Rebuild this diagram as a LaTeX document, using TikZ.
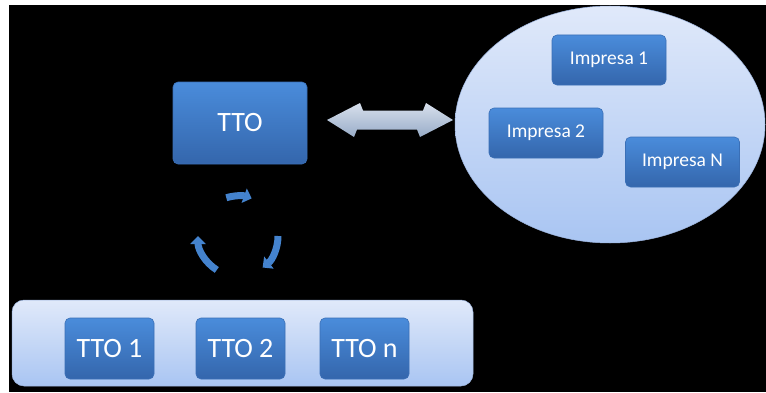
\documentclass[tikz,border=0pt]{standalone}
\usepackage{fontspec}
\setmainfont{Carlito}
\usetikzlibrary{shapes.geometric,arrows.meta}

\definecolor{boxtop}{HTML}{4A8CDB}
\definecolor{boxbot}{HTML}{3466AC}
\definecolor{boxline}{HTML}{3A6FB6}
\definecolor{paletop}{HTML}{E0E9FA}
\definecolor{palebot}{HTML}{A9C5F2}
\definecolor{paleline}{HTML}{9DB5DE}
\definecolor{linktop}{HTML}{D8E0EC}
\definecolor{linkbot}{HTML}{98ACC8}
\definecolor{cycblue}{HTML}{4483CE}

\tikzset{
  bluebox/.style={rectangle, rounded corners=5pt, draw=boxline, line width=0.6pt,
    top color=boxtop, bottom color=boxbot, text=white, inner sep=0pt},
  firmbox/.style={bluebox, minimum width=114pt, minimum height=50pt, font=\fontsize{19.5pt}{22pt}\selectfont},
  ttobox/.style={bluebox, minimum width=89pt, minimum height=61pt, font=\fontsize{28pt}{32pt}\selectfont},
  palearea/.style={draw=paleline, line width=0.5pt, top color=paletop, bottom color=palebot},
  cycarrow/.style={cycblue, line width=7pt, -{Triangle[length=8pt,width=15pt]}}
}

\begin{document}
\begin{tikzpicture}[x=1pt,y=1pt]
  % page and black stage
  \fill[white] (0,0) rectangle (766,392);
  \fill[black] (9,0) rectangle (766,387);
  \useasboundingbox (0,0) rectangle (766,392);

  % central office
  \node[bluebox, minimum width=134pt, minimum height=82pt,
        font=\fontsize{28pt}{32pt}\selectfont] (tto) at (240,269) {TTO};

  % companies
  \node[ellipse, palearea, minimum width=310pt, minimum height=237pt] (firms) at (610,267.5) {};
  \node[firmbox] (imp1) at (609,332) {Impresa 1};
  \node[firmbox] (imp2) at (546,259) {Impresa 2};
  \node[firmbox] (impN) at (682.5,230) {Impresa N};

  % two-way link between office and companies
  \coordinate (linkL) at (327,272);
  \coordinate (linkR) at (453,272);
  \fill[top color=linktop, bottom color=linkbot]
    (linkL) -- ++(33,17) -- ++(3,-7.5) -- ++(60,0) -- ++(3,7.5)
    -- (linkR) -- ++(-33,-17) -- ++(-3,7.5) -- ++(-60,0) -- ++(-3,-7.5) -- cycle;

  % network of offices
  \node[rectangle, rounded corners=12pt, palearea, minimum width=461pt,
        minimum height=86pt] (net) at (242.5,49) {};
  \node[ttobox] (tto1) at (109.5,43.5) {TTO 1};
  \node[ttobox] (tto2) at (240.5,43.5) {TTO 2};
  \node[ttobox] (tton) at (364.5,43.5) {TTO n};

  % cycle between the office and its network
  \coordinate (cyc) at (238,156);
  \draw[cycarrow] ([shift={(107:40)}]cyc) arc[start angle=107, end angle=70, radius=40];
  \draw[cycarrow] ([shift={(0:40)}]cyc) arc[start angle=0, end angle=-52, radius=40];
  \draw[cycarrow] ([shift={(238:40)}]cyc) arc[start angle=238, end angle=180, radius=40];
\end{tikzpicture}
\end{document}
